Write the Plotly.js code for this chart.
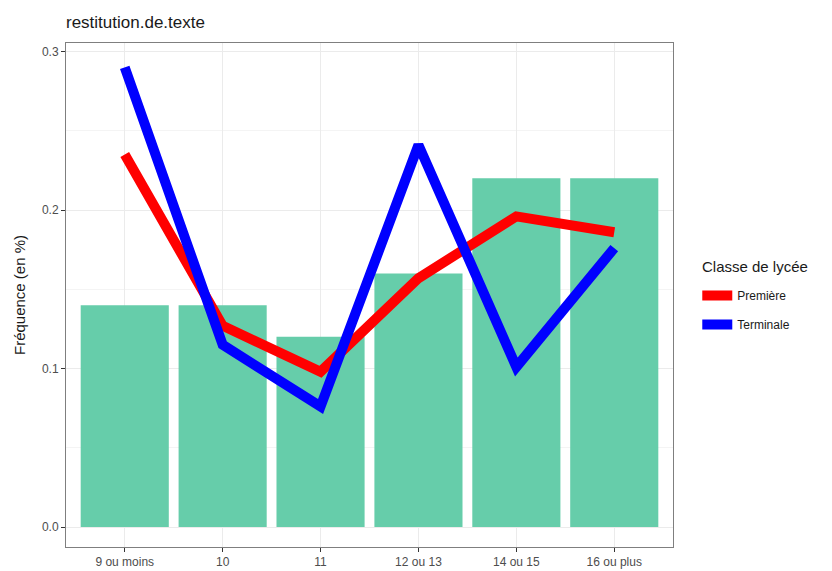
<!DOCTYPE html>
<html><head><meta charset="utf-8">
<script src="https://cdn.plot.ly/plotly-3.0.1.min.js"></script>
<style>body{margin:0;padding:0;background:#fff}#chart{width:832px;height:571px}</style>
</head><body><div id="chart"></div>
<script>
const categories = ["9 ou moins", "10", "11", "12 ou 13", "14 ou 15", "16 ou plus"];
const barValues = [0.14, 0.14, 0.12, 0.16, 0.22, 0.22];
const premiere = [0.235, 0.127, 0.098, 0.157, 0.196, 0.186];
const terminale = [0.290, 0.115, 0.076, 0.241, 0.101, 0.176];
const seriesNames = ["Première", "Terminale"];

const font = "Liberation Sans, Arial, sans-serif";
const traces = [
  {type: "bar", x: categories, y: barValues, width: 0.9, marker: {color: "#66CDAA"}, showlegend: false, hoverinfo: "x+y"},
  {type: "scatter", mode: "lines", x: categories, y: premiere, name: seriesNames[0], legendgroup: "a", line: {color: "#FF0000", width: 10}},
  {type: "scatter", mode: "lines", x: categories, y: terminale, name: seriesNames[1], legendgroup: "b", line: {color: "#0000FF", width: 10}}
];
const layout = {
  width: 832, height: 571,
  margin: {l: 66, r: 159, t: 43, b: 24},
  paper_bgcolor: "#fff", plot_bgcolor: "#fff",
  font: {family: font, color: "#4d4d4d"},
  title: {text: "restitution.de.texte", x: 66/832, xanchor: "left", y: 1 - 22/571, yanchor: "middle", font: {family: font, size: 17, color: "#1a1a1a"}},
  xaxis: {
    type: "category", range: [-0.6, 5.6],
    showline: true, mirror: true, linecolor: "#7f7f7f", linewidth: 1,
    showgrid: true, gridcolor: "#ebebeb", gridwidth: 1,
    ticks: "outside", ticklen: 4, tickcolor: "#333", tickwidth: 1,
    tickfont: {family: font, size: 12, color: "#4d4d4d"},
    zeroline: false, fixedrange: true
  },
  yaxis: {
    range: [-0.0126, 0.3054],
    tickvals: [0, 0.1, 0.2, 0.3], ticktext: ["0.0", "0.1", "0.2", "0.3"],
    showline: true, mirror: true, linecolor: "#7f7f7f", linewidth: 1,
    showgrid: true, gridcolor: "#ebebeb", gridwidth: 1,
    minor: {tickvals: [0.05, 0.15, 0.25], showgrid: true, gridcolor: "#f4f4f4", gridwidth: 1, ticks: ""},
    ticks: "outside", ticklen: 4, tickcolor: "#333", tickwidth: 1,
    tickfont: {family: font, size: 12, color: "#4d4d4d"},
    title: {text: "Fréquence (en %)", font: {family: font, size: 15, color: "#1a1a1a"}, standoff: 12},
    zeroline: false, fixedrange: true
  },
  annotations: [{
    text: "Classe de lycée", xref: "paper", yref: "paper", x: 1.045, xanchor: "left",
    y: (547 - 266) / 504, yanchor: "middle", showarrow: false,
    font: {family: font, size: 15, color: "#1a1a1a"}
  }],
  legend: {
    x: 1.04, xanchor: "left", y: (547 - 281) / 504, yanchor: "top",
    font: {family: font, size: 12, color: "#1a1a1a"},
    bgcolor: "rgba(0,0,0,0)", tracegroupgap: 10, itemwidth: 30
  },
  showlegend: true
};
Plotly.newPlot("chart", traces, layout, {displayModeBar: false, staticPlot: true});
</script></body></html>
